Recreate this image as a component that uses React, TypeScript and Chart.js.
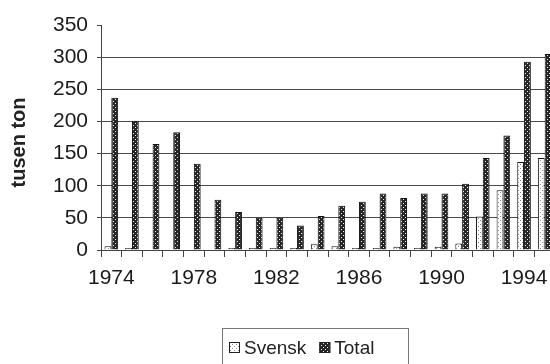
import React, { useEffect, useRef } from "react";
import { Chart, registerables } from "chart.js";

Chart.register(...registerables);

const years = [
  "1974", "1975", "1976", "1977", "1978", "1979", "1980", "1981", "1982", "1983", "1984",
  "1985", "1986", "1987", "1988", "1989", "1990", "1991", "1992", "1993", "1994", "1995",
];
const svensk: (number | null)[] = [
  6, 3, null, null, null, null, 3, 3, 3, 3, 9,
  6, 3, 3, 5, 3, 5, 10, 52, 93, 137, 143,
];
const total = [
  237, 201, 165, 183, 134, 78, 59, 50, 50, 38, 53,
  69, 75, 88, 81, 88, 88, 103, 143, 178, 293, 305,
];
const yTicks = [0, 50, 100, 150, 200, 250, 300, 350];
const yTitle = "tusen ton";
const FONT = "'Liberation Sans', Arial, sans-serif";

function makePattern(bg: string, dot: string, pts: [number, number][]) {
  const c = document.createElement("canvas");
  c.width = 4;
  c.height = 4;
  const g = c.getContext("2d")!;
  g.fillStyle = bg;
  g.fillRect(0, 0, 4, 4);
  g.fillStyle = dot;
  pts.forEach(([x, y]) => g.fillRect(x, y, 1, 1));
  return g.createPattern(c, "repeat")!;
}

// Rotated axis title, sitting a little below the plot's middle
const axisTitle = {
  id: "axisTitle",
  afterDraw(chart: any) {
    const ctx = chart.ctx as CanvasRenderingContext2D;
    const { top, bottom } = chart.chartArea;
    ctx.save();
    ctx.translate(19, (top + bottom) / 2 + 5);
    ctx.rotate(-Math.PI / 2);
    ctx.font = `bold 20px ${FONT}`;
    ctx.fillStyle = "#222";
    ctx.textAlign = "center";
    ctx.textBaseline = "middle";
    ctx.fillText(yTitle, 0, 0);
    ctx.restore();
  },
};

// Boxed legend centred under the plot
const boxLegend = {
  id: "boxLegend",
  afterDraw(chart: any) {
    const ctx = chart.ctx as CanvasRenderingContext2D;
    ctx.save();
    ctx.strokeStyle = "#777";
    ctx.lineWidth = 1;
    ctx.strokeRect(222.5, 328.5, 186, 40);
    ctx.font = `19px ${FONT}`;
    ctx.textBaseline = "middle";
    let x = 229;
    const cy = 348;
    chart.data.datasets.forEach((ds: any) => {
      ctx.fillStyle = ds.backgroundColor;
      ctx.fillRect(x, cy - 6, 11, 11);
      ctx.strokeStyle = "#222";
      ctx.strokeRect(x + 0.5, cy - 5.5, 10, 10);
      ctx.fillStyle = "#222";
      ctx.fillText(ds.label, x + 15, cy + 1);
      x += 15 + ctx.measureText(ds.label).width + 13;
    });
    ctx.restore();
  },
};

export default function App() {
  const ref = useRef<HTMLCanvasElement>(null);
  useEffect(() => {
    const light = makePattern("#ffffff", "#8a8a8a", [[0, 0], [2, 2]]);
    const dark = makePattern("#262626", "#f0f0f0", [[1, 1], [3, 3]]);
    const chart = new Chart(ref.current!, {
      type: "bar",
      data: {
        labels: years,
        datasets: [
          {
            label: "Svensk",
            data: svensk,
            backgroundColor: light as any,
            borderColor: "#111",
            borderWidth: 1,
            categoryPercentage: 0.66,
            barPercentage: 1,
          },
          {
            label: "Total",
            data: total,
            backgroundColor: dark as any,
            borderColor: "#111",
            borderWidth: 1,
            categoryPercentage: 0.66,
            barPercentage: 1,
          },
        ],
      },
      options: {
        responsive: false,
        animation: false,
        layout: { padding: { top: 25, right: 5, left: 0, bottom: 0 } },
        plugins: { legend: { display: false }, tooltip: { enabled: false } },
        scales: {
          x: {
            afterFit: (s: any) => {
              s.height = 114;
            },
            grid: {
              drawOnChartArea: false,
              tickLength: 7,
              tickColor: "#444",
            },
            border: { color: "#444" },
            ticks: {
              autoSkip: false,
              maxRotation: 0,
              padding: 9,
              color: "#1a1a1a",
              font: { family: FONT, size: 21 },
              callback: (_v: any, i: number) => (i % 4 === 0 ? years[i] : ""),
            },
          },
          y: {
            min: 0,
            max: 350,
            afterFit: (s: any) => {
              s.width = 101;
            },
            afterBuildTicks: (s: any) => {
              s.ticks = yTicks.map((v) => ({ value: v }));
            },
            grid: {
              color: (c: any) => (c.tick && c.tick.value === 350 ? "rgba(0,0,0,0)" : "#4a4a4a"),
              tickColor: "#444",
              tickLength: 4,
            },
            border: { color: "#444" },
            ticks: {
              padding: 9,
              color: "#1a1a1a",
              font: { family: FONT, size: 21 },
            },
          },
        },
      },
      plugins: [axisTitle, boxLegend],
    });
    return () => chart.destroy();
  }, []);
  return (
    <div style={{ position: "fixed", left: 0, top: 0, width: 550, height: 364, overflow: "hidden", background: "#fff" }}>
      <canvas ref={ref} width={560} height={364} />
    </div>
  );
}
